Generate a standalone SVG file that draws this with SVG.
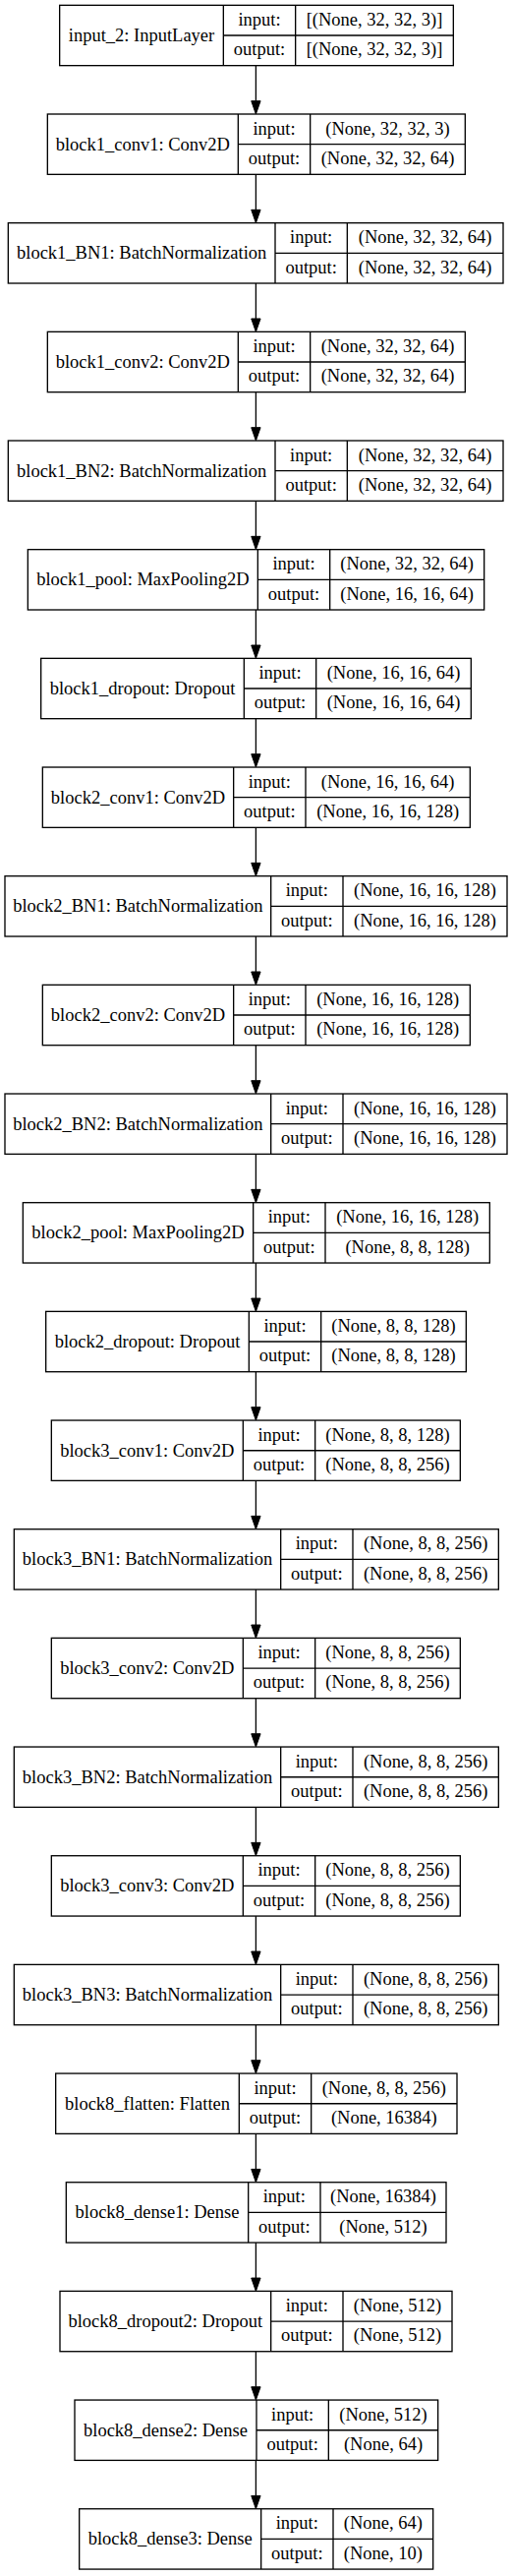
<svg xmlns="http://www.w3.org/2000/svg" width="521" height="2619" viewBox="0 0 521 2619">
<style>
.box{fill:#fff;stroke:#000;stroke-width:1.33}
.sep{fill:none;stroke:#000;stroke-width:1.33}
.edge{fill:none;stroke:#000;stroke-width:1.33}
text{font-family:"Liberation Serif","Times New Roman",serif;font-size:18.5px;text-anchor:middle;fill:#000}
</style>
<defs>
<marker id="arr" viewBox="0 0 13.33 9.33" markerWidth="13.33" markerHeight="9.33" refX="0" refY="4.67" orient="auto" markerUnits="userSpaceOnUse" overflow="visible">
<path d="M0,0 L13.33,4.67 L0,9.33 Z" fill="#000" stroke="#000" stroke-width="1"/>
</marker>
</defs>
<rect x="0" y="0" width="521" height="2619" fill="#fff"/>
<g id="edges">
<path class="edge" marker-end="url(#arr)" d="M260.4,66.66V102.67"/>
<path class="edge" marker-end="url(#arr)" d="M260.4,177.33V213.34"/>
<path class="edge" marker-end="url(#arr)" d="M260.4,288V324.01"/>
<path class="edge" marker-end="url(#arr)" d="M260.4,398.67V434.68"/>
<path class="edge" marker-end="url(#arr)" d="M260.4,509.34V545.35"/>
<path class="edge" marker-end="url(#arr)" d="M260.4,620.01V656.02"/>
<path class="edge" marker-end="url(#arr)" d="M260.4,730.68V766.69"/>
<path class="edge" marker-end="url(#arr)" d="M260.4,841.35V877.36"/>
<path class="edge" marker-end="url(#arr)" d="M260.4,952.02V988.03"/>
<path class="edge" marker-end="url(#arr)" d="M260.4,1062.69V1098.7"/>
<path class="edge" marker-end="url(#arr)" d="M260.4,1173.36V1209.37"/>
<path class="edge" marker-end="url(#arr)" d="M260.4,1284.03V1320.04"/>
<path class="edge" marker-end="url(#arr)" d="M260.4,1394.7V1430.71"/>
<path class="edge" marker-end="url(#arr)" d="M260.4,1505.37V1541.38"/>
<path class="edge" marker-end="url(#arr)" d="M260.4,1616.04V1652.05"/>
<path class="edge" marker-end="url(#arr)" d="M260.4,1726.71V1762.72"/>
<path class="edge" marker-end="url(#arr)" d="M260.4,1837.38V1873.39"/>
<path class="edge" marker-end="url(#arr)" d="M260.4,1948.05V1984.06"/>
<path class="edge" marker-end="url(#arr)" d="M260.4,2058.72V2094.73"/>
<path class="edge" marker-end="url(#arr)" d="M260.4,2169.39V2205.4"/>
<path class="edge" marker-end="url(#arr)" d="M260.4,2280.06V2316.07"/>
<path class="edge" marker-end="url(#arr)" d="M260.4,2390.73V2426.74"/>
<path class="edge" marker-end="url(#arr)" d="M260.4,2501.4V2537.41"/>
</g>
<g id="input_2" transform="translate(0,5.33)">
<rect class="box" x="60.67" y="0" width="400.66" height="61.33"/>
<path class="sep" d="M227.33,0V61.33M300.67,0V61.33M227.33,30.67H461.33"/>
<text x="144" y="36.5">input_2: InputLayer</text>
<text x="264" y="20.5">input:</text><text x="264" y="51">output:</text>
<text x="381" y="20.5">[(None, 32, 32, 3)]</text><text x="381" y="51">[(None, 32, 32, 3)]</text>
</g>
<g id="block1_conv1" transform="translate(0,116)">
<rect class="box" x="48.33" y="0" width="425" height="61.33"/>
<path class="sep" d="M242.33,0V61.33M315.67,0V61.33M242.33,30.67H473.33"/>
<text x="145.33" y="36.5">block1_conv1: Conv2D</text>
<text x="279" y="20.5">input:</text><text x="279" y="51">output:</text>
<text x="394.5" y="20.5">(None, 32, 32, 3)</text><text x="394.5" y="51">(None, 32, 32, 64)</text>
</g>
<g id="block1_BN1" transform="translate(0,226.67)">
<rect class="box" x="8.33" y="0" width="503.67" height="61.33"/>
<path class="sep" d="M280,0V61.33M353.33,0V61.33M280,30.67H512"/>
<text x="144.17" y="36.5">block1_BN1: BatchNormalization</text>
<text x="316.67" y="20.5">input:</text><text x="316.67" y="51">output:</text>
<text x="432.67" y="20.5">(None, 32, 32, 64)</text><text x="432.67" y="51">(None, 32, 32, 64)</text>
</g>
<g id="block1_conv2" transform="translate(0,337.34)">
<rect class="box" x="48.33" y="0" width="425" height="61.33"/>
<path class="sep" d="M242.33,0V61.33M315.67,0V61.33M242.33,30.67H473.33"/>
<text x="145.33" y="36.5">block1_conv2: Conv2D</text>
<text x="279" y="20.5">input:</text><text x="279" y="51">output:</text>
<text x="394.5" y="20.5">(None, 32, 32, 64)</text><text x="394.5" y="51">(None, 32, 32, 64)</text>
</g>
<g id="block1_BN2" transform="translate(0,448.01)">
<rect class="box" x="8.33" y="0" width="503.67" height="61.33"/>
<path class="sep" d="M280,0V61.33M353.33,0V61.33M280,30.67H512"/>
<text x="144.17" y="36.5">block1_BN2: BatchNormalization</text>
<text x="316.67" y="20.5">input:</text><text x="316.67" y="51">output:</text>
<text x="432.67" y="20.5">(None, 32, 32, 64)</text><text x="432.67" y="51">(None, 32, 32, 64)</text>
</g>
<g id="block1_pool" transform="translate(0,558.68)">
<rect class="box" x="28.33" y="0" width="464.34" height="61.33"/>
<path class="sep" d="M262.33,0V61.33M335.67,0V61.33M262.33,30.67H492.67"/>
<text x="145.33" y="36.5">block1_pool: MaxPooling2D</text>
<text x="299" y="20.5">input:</text><text x="299" y="51">output:</text>
<text x="414.17" y="20.5">(None, 32, 32, 64)</text><text x="414.17" y="51">(None, 16, 16, 64)</text>
</g>
<g id="block1_dropout" transform="translate(0,669.35)">
<rect class="box" x="41.67" y="0" width="437.66" height="61.33"/>
<path class="sep" d="M248.33,0V61.33M321.67,0V61.33M248.33,30.67H479.33"/>
<text x="145" y="36.5">block1_dropout: Dropout</text>
<text x="285" y="20.5">input:</text><text x="285" y="51">output:</text>
<text x="400.5" y="20.5">(None, 16, 16, 64)</text><text x="400.5" y="51">(None, 16, 16, 64)</text>
</g>
<g id="block2_conv1" transform="translate(0,780.02)">
<rect class="box" x="43.33" y="0" width="435" height="61.33"/>
<path class="sep" d="M237.67,0V61.33M311,0V61.33M237.67,30.67H478.33"/>
<text x="140.5" y="36.5">block2_conv1: Conv2D</text>
<text x="274.33" y="20.5">input:</text><text x="274.33" y="51">output:</text>
<text x="394.67" y="20.5">(None, 16, 16, 64)</text><text x="394.67" y="51">(None, 16, 16, 128)</text>
</g>
<g id="block2_BN1" transform="translate(0,890.69)">
<rect class="box" x="5" y="0" width="511" height="61.33"/>
<path class="sep" d="M275.67,0V61.33M349,0V61.33M275.67,30.67H516"/>
<text x="140.33" y="36.5">block2_BN1: BatchNormalization</text>
<text x="312.33" y="20.5">input:</text><text x="312.33" y="51">output:</text>
<text x="432.5" y="20.5">(None, 16, 16, 128)</text><text x="432.5" y="51">(None, 16, 16, 128)</text>
</g>
<g id="block2_conv2" transform="translate(0,1001.36)">
<rect class="box" x="43.33" y="0" width="435" height="61.33"/>
<path class="sep" d="M237.67,0V61.33M311,0V61.33M237.67,30.67H478.33"/>
<text x="140.5" y="36.5">block2_conv2: Conv2D</text>
<text x="274.33" y="20.5">input:</text><text x="274.33" y="51">output:</text>
<text x="394.67" y="20.5">(None, 16, 16, 128)</text><text x="394.67" y="51">(None, 16, 16, 128)</text>
</g>
<g id="block2_BN2" transform="translate(0,1112.03)">
<rect class="box" x="5" y="0" width="511" height="61.33"/>
<path class="sep" d="M275.67,0V61.33M349,0V61.33M275.67,30.67H516"/>
<text x="140.33" y="36.5">block2_BN2: BatchNormalization</text>
<text x="312.33" y="20.5">input:</text><text x="312.33" y="51">output:</text>
<text x="432.5" y="20.5">(None, 16, 16, 128)</text><text x="432.5" y="51">(None, 16, 16, 128)</text>
</g>
<g id="block2_pool" transform="translate(0,1222.7)">
<rect class="box" x="23.33" y="0" width="475" height="61.33"/>
<path class="sep" d="M257.67,0V61.33M331,0V61.33M257.67,30.67H498.33"/>
<text x="140.5" y="36.5">block2_pool: MaxPooling2D</text>
<text x="294.33" y="20.5">input:</text><text x="294.33" y="51">output:</text>
<text x="414.67" y="20.5">(None, 16, 16, 128)</text><text x="414.67" y="51">(None, 8, 8, 128)</text>
</g>
<g id="block2_dropout" transform="translate(0,1333.37)">
<rect class="box" x="46.67" y="0" width="427.66" height="61.33"/>
<path class="sep" d="M253.33,0V61.33M326.67,0V61.33M253.33,30.67H474.33"/>
<text x="150" y="36.5">block2_dropout: Dropout</text>
<text x="290" y="20.5">input:</text><text x="290" y="51">output:</text>
<text x="400.5" y="20.5">(None, 8, 8, 128)</text><text x="400.5" y="51">(None, 8, 8, 128)</text>
</g>
<g id="block3_conv1" transform="translate(0,1444.04)">
<rect class="box" x="52.33" y="0" width="416" height="61.33"/>
<path class="sep" d="M247.33,0V61.33M320.67,0V61.33M247.33,30.67H468.33"/>
<text x="149.83" y="36.5">block3_conv1: Conv2D</text>
<text x="284" y="20.5">input:</text><text x="284" y="51">output:</text>
<text x="394.5" y="20.5">(None, 8, 8, 128)</text><text x="394.5" y="51">(None, 8, 8, 256)</text>
</g>
<g id="block3_BN1" transform="translate(0,1554.71)">
<rect class="box" x="14.33" y="0" width="493" height="61.33"/>
<path class="sep" d="M285.67,0V61.33M359,0V61.33M285.67,30.67H507.33"/>
<text x="150" y="36.5">block3_BN1: BatchNormalization</text>
<text x="322.33" y="20.5">input:</text><text x="322.33" y="51">output:</text>
<text x="433.17" y="20.5">(None, 8, 8, 256)</text><text x="433.17" y="51">(None, 8, 8, 256)</text>
</g>
<g id="block3_conv2" transform="translate(0,1665.38)">
<rect class="box" x="52.33" y="0" width="416" height="61.33"/>
<path class="sep" d="M247.33,0V61.33M320.67,0V61.33M247.33,30.67H468.33"/>
<text x="149.83" y="36.5">block3_conv2: Conv2D</text>
<text x="284" y="20.5">input:</text><text x="284" y="51">output:</text>
<text x="394.5" y="20.5">(None, 8, 8, 256)</text><text x="394.5" y="51">(None, 8, 8, 256)</text>
</g>
<g id="block3_BN2" transform="translate(0,1776.05)">
<rect class="box" x="14.33" y="0" width="493" height="61.33"/>
<path class="sep" d="M285.67,0V61.33M359,0V61.33M285.67,30.67H507.33"/>
<text x="150" y="36.5">block3_BN2: BatchNormalization</text>
<text x="322.33" y="20.5">input:</text><text x="322.33" y="51">output:</text>
<text x="433.17" y="20.5">(None, 8, 8, 256)</text><text x="433.17" y="51">(None, 8, 8, 256)</text>
</g>
<g id="block3_conv3" transform="translate(0,1886.72)">
<rect class="box" x="52.33" y="0" width="416" height="61.33"/>
<path class="sep" d="M247.33,0V61.33M320.67,0V61.33M247.33,30.67H468.33"/>
<text x="149.83" y="36.5">block3_conv3: Conv2D</text>
<text x="284" y="20.5">input:</text><text x="284" y="51">output:</text>
<text x="394.5" y="20.5">(None, 8, 8, 256)</text><text x="394.5" y="51">(None, 8, 8, 256)</text>
</g>
<g id="block3_BN3" transform="translate(0,1997.39)">
<rect class="box" x="14.33" y="0" width="493" height="61.33"/>
<path class="sep" d="M285.67,0V61.33M359,0V61.33M285.67,30.67H507.33"/>
<text x="150" y="36.5">block3_BN3: BatchNormalization</text>
<text x="322.33" y="20.5">input:</text><text x="322.33" y="51">output:</text>
<text x="433.17" y="20.5">(None, 8, 8, 256)</text><text x="433.17" y="51">(None, 8, 8, 256)</text>
</g>
<g id="block8_flatten" transform="translate(0,2108.06)">
<rect class="box" x="56.67" y="0" width="408.33" height="61.33"/>
<path class="sep" d="M243.33,0V61.33M316.67,0V61.33M243.33,30.67H465"/>
<text x="150" y="36.5">block8_flatten: Flatten</text>
<text x="280" y="20.5">input:</text><text x="280" y="51">output:</text>
<text x="390.83" y="20.5">(None, 8, 8, 256)</text><text x="390.83" y="51">(None, 16384)</text>
</g>
<g id="block8_dense1" transform="translate(0,2218.73)">
<rect class="box" x="67.33" y="0" width="386.67" height="61.33"/>
<path class="sep" d="M252.67,0V61.33M326,0V61.33M252.67,30.67H454"/>
<text x="160" y="36.5">block8_dense1: Dense</text>
<text x="289.33" y="20.5">input:</text><text x="289.33" y="51">output:</text>
<text x="390" y="20.5">(None, 16384)</text><text x="390" y="51">(None, 512)</text>
</g>
<g id="block8_dropout2" transform="translate(0,2329.4)">
<rect class="box" x="61" y="0" width="399" height="61.33"/>
<path class="sep" d="M275.67,0V61.33M349,0V61.33M275.67,30.67H460"/>
<text x="168.33" y="36.5">block8_dropout2: Dropout</text>
<text x="312.33" y="20.5">input:</text><text x="312.33" y="51">output:</text>
<text x="404.5" y="20.5">(None, 512)</text><text x="404.5" y="51">(None, 512)</text>
</g>
<g id="block8_dense2" transform="translate(0,2440.07)">
<rect class="box" x="76" y="0" width="369.67" height="61.33"/>
<path class="sep" d="M261,0V61.33M334.33,0V61.33M261,30.67H445.67"/>
<text x="168.5" y="36.5">block8_dense2: Dense</text>
<text x="297.67" y="20.5">input:</text><text x="297.67" y="51">output:</text>
<text x="390" y="20.5">(None, 512)</text><text x="390" y="51">(None, 64)</text>
</g>
<g id="block8_dense3" transform="translate(0,2550.74)">
<rect class="box" x="80.67" y="0" width="360" height="61.33"/>
<path class="sep" d="M265.67,0V61.33M339,0V61.33M265.67,30.67H440.67"/>
<text x="173.17" y="36.5">block8_dense3: Dense</text>
<text x="302.33" y="20.5">input:</text><text x="302.33" y="51">output:</text>
<text x="389.83" y="20.5">(None, 64)</text><text x="389.83" y="51">(None, 10)</text>
</g>
</svg>
